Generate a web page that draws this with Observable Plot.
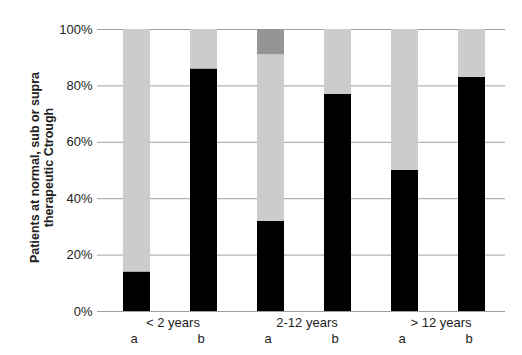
<!DOCTYPE html>
<html>
<head>
<meta charset="utf-8">
<script src="https://cdn.jsdelivr.net/npm/d3@7"></script>
<script src="https://cdn.jsdelivr.net/npm/@observablehq/plot@0.6"></script>
<style>
  html, body { margin: 0; padding: 0; background: #fff; }
</style>
</head>
<body>
<div id="chart"></div>
<script>
const groups = ["< 2 years", "2-12 years", "> 12 years"];
const subgroups = ["a", "b"];
const normal = [14, 86, 32, 77, 50, 83];   // black
const subTher = [86, 14, 59, 23, 50, 17];  // light gray
const supraTher = [0, 0, 9, 0, 0, 0];      // dark gray
const yTicks = [0, 20, 40, 60, 80, 100];

const ids = [];
groups.forEach(g => subgroups.forEach(s => ids.push(g + "|" + s)));

const rows = [];
ids.forEach((id, i) => {
  rows.push({id, level: "normal", value: normal[i]});
  rows.push({id, level: "sub", value: subTher[i]});
  rows.push({id, level: "supra", value: supraTher[i]});
});
const groupRows = groups.map(g => ({id: g + "|a", label: g}));

const chart = Plot.plot({
  width: 522,
  height: 355,
  marginLeft: 102,
  marginRight: 17,
  marginTop: 29,
  marginBottom: 44,
  style: {fontFamily: "'Liberation Sans', Arial, sans-serif", fontSize: "13px", color: "#222", background: "#fff"},
  x: {domain: ids, paddingInner: 0.6, paddingOuter: 0.3, axis: null},
  y: {domain: [0, 100], axis: null},
  color: {domain: ["normal", "sub", "supra"], range: ["#000000", "#cccccc", "#959595"]},
  marks: [
    Plot.gridY(yTicks, {stroke: "#a0a0a0", strokeOpacity: 1, strokeWidth: 1}),
    Plot.axisY(yTicks, {tickSize: 5, tickPadding: 5, stroke: "#a0a0a0", tickFormat: d => d + "%", fontSize: 13, label: null}),
    Plot.barY(rows, {x: "id", y: "value", fill: "level", order: ["normal", "sub", "supra"]}),
    Plot.ruleX([0], {frameAnchor: "left", stroke: "#b5b5b5"}),
    Plot.ruleY([0], {stroke: "#a0a0a0"}),
    Plot.axisX(ids, {tickSize: 0, tickPadding: 22, tickFormat: d => d.split("|")[1], fontSize: 13, label: null, dx: -3}),
    Plot.text(groupRows, {x: "id", text: "label", frameAnchor: "bottom", lineAnchor: "top", dy: 6, dx: 36, fontSize: 13}),
    Plot.text(["Patients at normal, sub or supra\ntherapeutic Ctrough"], {
      frameAnchor: "left", rotate: -90, dx: -61, dy: -3, textAnchor: "middle", lineAnchor: "middle",
      fontWeight: "bold", fontSize: 12.5, lineHeight: 1.15, text: d => d
    })
  ]
});
document.getElementById("chart").appendChild(chart);
</script>
</body>
</html>
